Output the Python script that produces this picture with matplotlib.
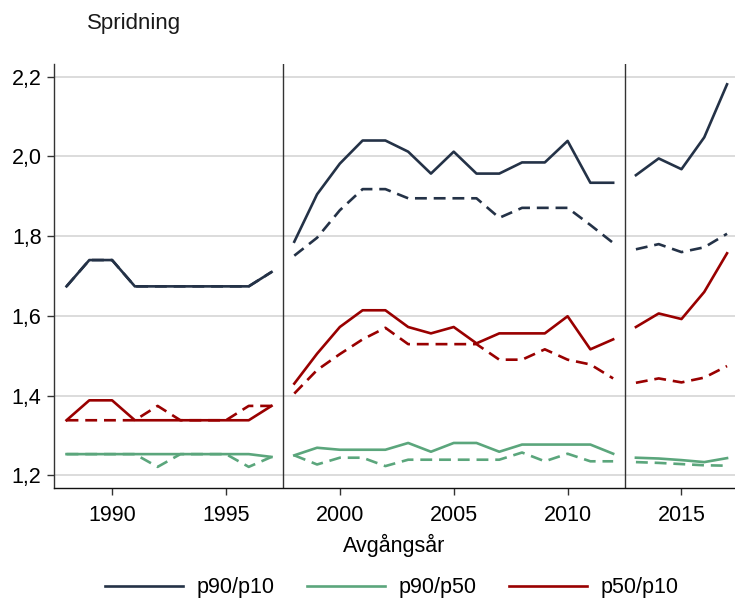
import numpy as np
import matplotlib
matplotlib.use("Agg")
import matplotlib.pyplot as plt
from matplotlib.ticker import FuncFormatter

plt.rcParams['font.family'] = ['Liberation Sans', 'DejaVu Sans']

years = list(range(1988, 2018))

# Spread ratios per graduation year (solid = main measure, dashed = alternative)
p90_p10 = [1.674, 1.740, 1.740, 1.674, 1.674, 1.674, 1.674, 1.674, 1.674, 1.710,
           1.786, 1.905, 1.982, 2.040, 2.040, 2.012, 1.957, 2.012, 1.957, 1.957,
           1.985, 1.985, 2.039, 1.934, 1.934,
           1.953, 1.995, 1.968, 2.048, 2.181]
p90_p10_alt = [1.674, 1.740, 1.740, 1.674, 1.674, 1.674, 1.674, 1.674, 1.674, 1.710,
               1.751, 1.796, 1.865, 1.918, 1.918, 1.895, 1.895, 1.895, 1.895, 1.846,
               1.871, 1.871, 1.871, 1.828, 1.783,
               1.767, 1.780, 1.760, 1.772, 1.806]
p90_p50 = [1.253, 1.253, 1.253, 1.253, 1.253, 1.253, 1.253, 1.253, 1.253, 1.246,
           1.250, 1.269, 1.264, 1.264, 1.264, 1.281, 1.259, 1.281, 1.281, 1.259,
           1.277, 1.277, 1.277, 1.277, 1.254,
           1.244, 1.242, 1.238, 1.233, 1.243]
p90_p50_alt = [1.253, 1.253, 1.253, 1.253, 1.221, 1.253, 1.253, 1.253, 1.221, 1.246,
               1.250, 1.227, 1.244, 1.244, 1.223, 1.239, 1.239, 1.239, 1.239, 1.239,
               1.257, 1.235, 1.254, 1.235, 1.235,
               1.233, 1.231, 1.228, 1.225, 1.224]
p50_p10 = [1.338, 1.388, 1.388, 1.338, 1.338, 1.338, 1.338, 1.338, 1.338, 1.374,
           1.430, 1.505, 1.572, 1.614, 1.614, 1.572, 1.556, 1.572, 1.531, 1.556,
           1.556, 1.556, 1.599, 1.516, 1.541,
           1.572, 1.606, 1.592, 1.660, 1.757]
p50_p10_alt = [1.338, 1.338, 1.338, 1.338, 1.374, 1.338, 1.338, 1.338, 1.374, 1.374,
               1.405, 1.464, 1.504, 1.541, 1.570, 1.529, 1.529, 1.529, 1.529, 1.490,
               1.490, 1.516, 1.490, 1.478, 1.443,
               1.432, 1.443, 1.433, 1.445, 1.474]

periods = [(1988, 1997), (1998, 2012), (2013, 2017)]
breaks = [1997.5, 2012.5]

series = [
    ("p90/p10", p90_p10, p90_p10_alt, "#243247"),
    ("p90/p50", p90_p50, p90_p50_alt, "#5ba67c"),
    ("p50/p10", p50_p10, p50_p10_alt, "#990000"),
]

fig = plt.figure(figsize=(7.35, 6.02), dpi=100)
ax = fig.add_axes([54 / 735, 1 - 488 / 602, 1 - 54 / 735, (488 - 64) / 602])

yrs = np.array(years)
lw = 1.9
for name, solid, dashed, color in series:
    s = np.array(solid)
    d = np.array(dashed)
    for i, (a, b) in enumerate(periods):
        m = (yrs >= a) & (yrs <= b)
        ax.plot(yrs[m], d[m], color=color, lw=lw, linestyle=(0, (4.5, 2.6)),
                solid_capstyle='butt', dash_capstyle='butt')
        ax.plot(yrs[m], s[m], color=color, lw=lw,
                label=name if i == 0 else None)

for xb in breaks:
    ax.axvline(xb, color="#333333", lw=1.0, zorder=1)

ax.set_xlim(1987.45, 2017.35)
ax.set_ylim(1.168, 2.232)
ax.set_yticks([1.2, 1.4, 1.6, 1.8, 2.0, 2.2])
ax.set_xticks([1990, 1995, 2000, 2005, 2010, 2015])
ax.yaxis.set_major_formatter(FuncFormatter(lambda v, p: f"{v:.1f}".replace(".", ",")))
ax.grid(axis='y', color="#dcdcdc", lw=1.4, zorder=0)
ax.set_axisbelow(True)

for sp in ("top", "right"):
    ax.spines[sp].set_visible(False)
ax.spines["left"].set_color("#333333")
ax.spines["bottom"].set_color("#111111")
ax.spines["left"].set_linewidth(1.0)
ax.spines["bottom"].set_linewidth(1.0)
ax.tick_params(axis='both', direction='out', length=5, width=1.0,
               color="#333333", labelsize=15.5)
ax.tick_params(axis='x', pad=7)
ax.tick_params(axis='y', pad=4)

ax.set_xlabel("Avgångsår", fontsize=15.5, labelpad=6)

fig.text(87 / 735, 1 - 24 / 602, "Spridning", fontsize=16, va='center', ha='left',
         color="#1a1a1a")

fig.legend(loc='center', bbox_to_anchor=(392 / 735, 1 - 588 / 602), ncol=3,
           frameon=False, fontsize=15.5, handlelength=3.6, handletextpad=0.65,
           columnspacing=1.5)

fig.savefig("out.png", dpi=100)
